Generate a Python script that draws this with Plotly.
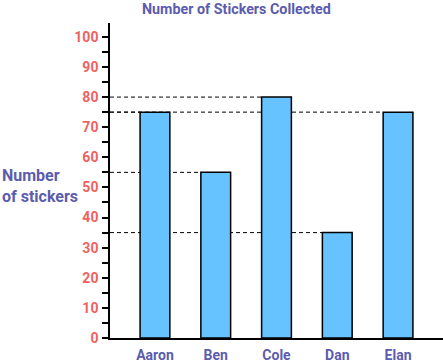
import plotly.graph_objects as go

names = ["Aaron", "Ben", "Cole", "Dan", "Elan"]
stickers = [75, 55, 80, 35, 75]
y_ticks = list(range(0, 101, 10))

TITLE = "Number of Stickers Collected"
Y_LABEL = "Number<br>of stickers"

PURPLE = "#5b5cae"
RED = "#ef6262"
BAR = "#66c3ff"
FONT = "Roboto, Liberation Sans, Arial, sans-serif"

x_pos = list(range(len(names)))
bar_w = 0.49
x_lo, x_hi = -0.74, 4.74

fig = go.Figure(go.Bar(
    x=x_pos, y=stickers, width=bar_w,
    marker=dict(color=BAR, line=dict(color="black", width=1.5)),
))

shapes = []
for xi, v in zip(x_pos, stickers):
    shapes.append(dict(type="line", xref="x", yref="y", x0=x_lo, x1=xi - bar_w / 2,
                       y0=v, y1=v, layer="below",
                       line=dict(color="black", width=1, dash="4px,3px")))

fig.update_layout(
    width=443, height=364,
    margin=dict(l=110, r=0, t=23, b=26, autoexpand=False),
    plot_bgcolor="white", paper_bgcolor="white",
    showlegend=False,
    shapes=shapes,
    font=dict(family=FONT),
    xaxis=dict(range=[x_lo, x_hi], tickvals=x_pos, ticktext=names, showgrid=False,
               zeroline=False, showline=True, linecolor="black", linewidth=1.5,
               ticks="", automargin=False, ticklabelstandoff=3,
               tickfont=dict(size=14, color=PURPLE, family=FONT, weight="bold")),
    yaxis=dict(range=[0, 104.6], tickvals=y_ticks, showgrid=False, zeroline=False,
               showline=True, linecolor="black", linewidth=1.5, automargin=False,
               ticks="outside", ticklen=6, tickwidth=1.5, tickcolor="black",
               ticklabelstandoff=1,
               minor=dict(dtick=5, ticks="outside", ticklen=6, tickwidth=1.5,
                          tickcolor="black", showgrid=False),
               tickfont=dict(size=14, color=RED, family=FONT, weight="bold")),
    annotations=[
        dict(text=TITLE, xref="paper", yref="paper", x=(236.7 - 110) / 333, y=1,
             yshift=14.5, xanchor="center", yanchor="middle", showarrow=False,
             font=dict(size=14.3, color=PURPLE, family=FONT, weight="bold")),
        dict(text=Y_LABEL, xref="paper", yref="paper", x=-110 / 333, y=(338 - 186) / 315,
             xanchor="left", yanchor="middle", align="left", showarrow=False,
             font=dict(size=16, color=PURPLE, family=FONT, weight="bold")),
    ],
)

fig.write_html("out.html", config={"displayModeBar": False},
               post_script="document.body.style.margin='0';")
